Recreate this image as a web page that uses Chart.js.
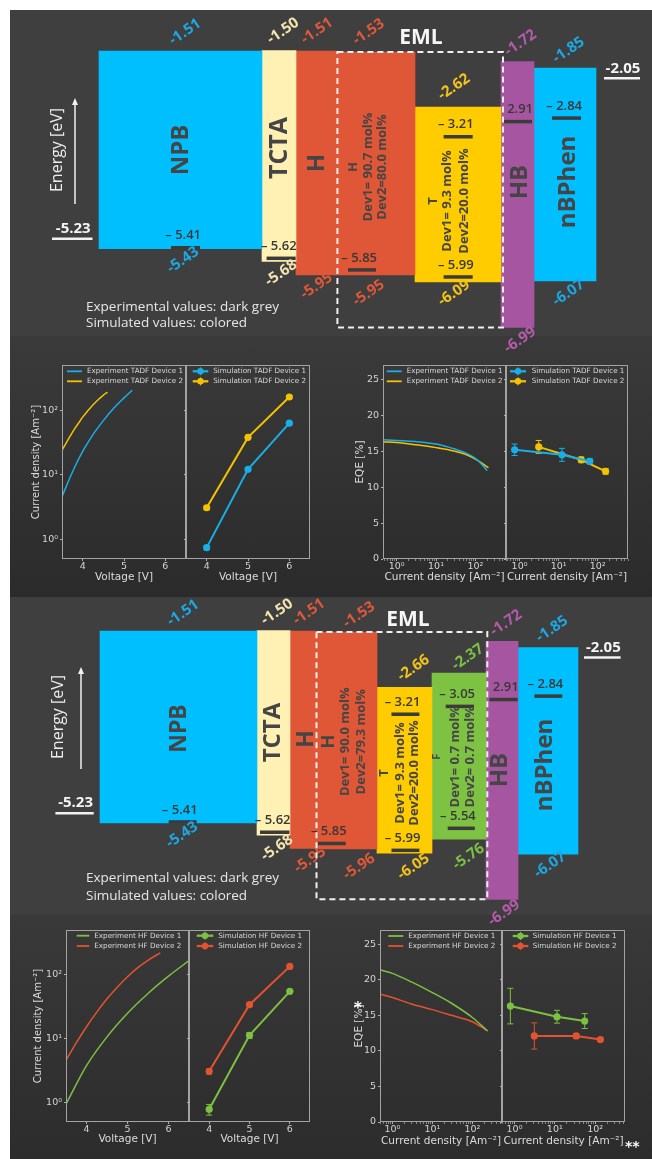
<!DOCTYPE html>
<html><head><meta charset="utf-8">
<script src="https://cdn.jsdelivr.net/npm/chart.js@4.4.1/dist/chart.umd.min.js"></script>
<style>
html,body{margin:0;padding:0;background:#fff;}
#page{position:relative;width:652px;height:1159px;overflow:hidden;background:#fff;}
.bg{position:absolute;left:10px;right:0;}
canvas{position:absolute;}
.mark{position:absolute;color:#fff;font-family:"DejaVu Sans",sans-serif;font-weight:bold;white-space:nowrap;}
</style></head>
<body><div id="page">
<div class="bg" style="top:10px;height:326px;background:#3f3f3f"></div>
<div class="bg" style="top:336px;height:261px;background:linear-gradient(#3a3a3a,#2b2b2b)"></div>
<div class="bg" style="top:597px;height:318px;background:#3f3f3f"></div>
<div class="bg" style="top:915px;bottom:0;background:linear-gradient(#393939,#2c2c2c)"></div>
</div>
<script>
// ================= DATA =================
// Energy levels [eV] – TADF stack
const tadfLayers = ['NPB', 'TCTA', 'H', 'H', 'T', 'HB', 'nBPhen'];
const tadfLumo = [-1.51, -1.50, -1.51, -1.53, -2.62, -1.72, -1.85];
const tadfHomo = [-5.43, -5.68, -5.95, -5.95, -6.09, -6.99, -6.07];
const tadfExpLevels = [-5.41, -5.62, -5.85, -3.21, -5.99, -2.91, -2.84];
const tadfRefLevels = [-5.23, -2.05];
const tadfHostMol = [90.7, 80.0];
const tadfEmitterMol = [9.3, 20.0];

// Energy levels [eV] – HF stack
const hfLayers = ['NPB', 'TCTA', 'H', 'H', 'T', 'F', 'HB', 'nBPhen'];
const hfLumo = [-1.51, -1.50, -1.51, -1.53, -2.66, -2.37, -1.72, -1.85];
const hfHomo = [-5.43, -5.68, -5.95, -5.96, -6.05, -5.76, -6.99, -6.07];
const hfExpLevels = [-5.41, -5.62, -5.85, -3.21, -5.99, -3.05, -5.54, -2.91, -2.84];
const hfRefLevels = [-5.23, -2.05];
const hfHostMol = [90.0, 79.3];
const hfTadfMol = [9.3, 20.0];
const hfFluorMol = [0.7, 0.7];

// Current density vs voltage
const tadfExpV1 = [3.5, 3.75, 4.0, 4.25, 4.5, 4.75, 5.0, 5.2];
const tadfExpJ1 = [4.6, 11, 23, 42, 69, 107, 155, 204];
const tadfExpV2 = [3.5, 3.6, 3.7, 3.8, 3.9, 4.0, 4.1, 4.2, 4.3, 4.4, 4.5, 4.6];
const tadfExpJ2 = [24, 31, 40, 51, 63, 78, 94, 111, 130, 150, 171, 190];
const simVoltage = [4, 5, 6];
const tadfSimJ1 = [0.75, 12.2, 63];
const tadfSimJ2 = [3.1, 38, 160];
const tadfSimJErr1 = [0.06, 0.8, 2.5];
const tadfSimJErr2 = [0.2, 2, 5];

const hfExpV1 = [3.5, 4.0, 4.5, 5.0, 5.5, 6.0, 6.5];
const hfExpJ1 = [0.95, 3.8, 10.7, 25, 51, 95, 166];
const hfExpV2 = [3.5, 3.75, 4.0, 4.25, 4.5, 4.75, 5.0, 5.25, 5.5, 5.8];
const hfExpJ2 = [4.6, 8.6, 15.4, 26, 42, 64, 93, 129, 168, 220];
const hfSimJ1 = [0.79, 11.3, 55];
const hfSimJ2 = [3.1, 34, 135];
const hfSimJErr1 = [0.15, 1.2, 3];
const hfSimJErr2 = [0.3, 2, 6];

// EQE vs current density
const tadfExpEqeJ1 = [0.45, 1, 3, 10, 30, 60, 100, 150, 200];
const tadfExpEqe1 = [16.6, 16.5, 16.35, 16.0, 15.3, 14.7, 14.0, 13.1, 12.3];
const tadfExpEqeJ2 = [0.45, 1, 3, 10, 30, 60, 100, 150, 215];
const tadfExpEqe2 = [16.3, 16.2, 15.9, 15.5, 15.0, 14.5, 13.9, 13.3, 12.7];
const tadfSimEqe1 = [15.2, 14.5, 13.6];
const tadfSimEqeErr1 = [0.8, 0.9, 0.4];
const tadfSimEqe2 = [15.6, 13.8, 12.2];
const tadfSimEqeErr2 = [0.9, 0.4, 0.4];

const hfExpEqeJ = [0.49, 1, 3, 10, 30, 100, 240];
const hfExpEqe1 = [21.4, 20.9, 19.7, 18.2, 16.7, 14.7, 12.8];
const hfExpEqe2 = [18.0, 17.5, 16.6, 15.8, 15.0, 14.1, 12.8];
const hfSimEqe1 = [16.3, 14.8, 14.2];
const hfSimEqeErr1 = [2.5, 0.9, 1.05];
const hfSimEqe2 = [12.1, 12.1, 11.6];
const hfSimEqeErr2 = [1.85, 0.35, 0.25];

// Tick values
const jvVoltageTicks = [4, 5, 6];
const jvCurrentTicks = [1, 10, 100];
const eqeTicks = [0, 5, 10, 15, 20, 25];

// ================= STYLE / LAYOUT =================
const C_BLUE = '#1aaee6', C_YELLOW = '#f4c200', C_GREEN = '#7dc142', C_RED = '#e2532f';
Chart.defaults.font.family = '"DejaVu Sans", sans-serif';
Chart.defaults.color = '#d4d4d4';
Chart.defaults.animation = false;
const page = document.getElementById('page');
const OS = '"Open Sans", "DejaVu Sans", sans-serif';

function addCanvas(x, y, w, h) {
  const c = document.createElement('canvas');
  c.width = w; c.height = h;
  c.style.left = x + 'px'; c.style.top = y + 'px';
  c.style.width = w + 'px'; c.style.height = h + 'px';
  page.appendChild(c);
  return c;
}
const SUP = {'-': '⁻', '0': '⁰', '1': '¹', '2': '²', '3': '³', '4': '⁴'};
function pow10Label(v) {
  const e = Math.log10(v), r = Math.round(e);
  return Math.abs(e - r) < 1e-6 ? '10' + String(r).split('').map(ch => SUP[ch]).join('') : '';
}
function logTicks(min, max) {
  const out = [];
  for (let d = Math.floor(Math.log10(min)); d <= Math.ceil(Math.log10(max)); d++)
    for (let m = 1; m <= 9; m++) {
      const v = m * Math.pow(10, d);
      if (v >= min * 0.9999 && v <= max * 1.0001) out.push({value: v});
    }
  return out;
}
const pts = (xs, ys) => xs.map((x, i) => ({x, y: ys[i]}));
function expSet(label, xs, ys, color) {
  return {label, data: pts(xs, ys), borderColor: color, backgroundColor: color, borderWidth: 1.5,
    pointRadius: 0, cubicInterpolationMode: 'monotone', fill: false};
}
function simSet(label, xs, ys, err, color) {
  return {label, data: pts(xs, ys), yErr: err, borderColor: color, backgroundColor: color, borderWidth: 2,
    pointRadius: 3.6, pointBorderWidth: 0, pointBackgroundColor: color, fill: false};
}

const TICK_FONT = {size: 9.5};
const GRID = {drawOnChartArea: false, tickLength: 2, tickColor: '#b0b0b0'};
function xAxisJV() {
  return {type: 'linear', min: 3.5, max: 6.5,
    afterBuildTicks: s => { s.ticks = jvVoltageTicks.map(v => ({value: v})); },
    ticks: {font: TICK_FONT, padding: 0, maxRotation: 0, autoSkip: false},
    grid: GRID, border: {display: false},
    title: {display: true, text: 'Voltage [V]', font: {size: 10.5}, color: '#dcdcdc', padding: 0}};
}
function yAxisJV(labels) {
  return {type: 'logarithmic', min: 0.5, max: 500,
    afterBuildTicks: s => { s.ticks = jvCurrentTicks.map(v => ({value: v})); },
    ticks: {display: labels, font: TICK_FONT, padding: 2, autoSkip: false, callback: v => pow10Label(v)},
    grid: GRID, border: {display: false},
    title: {display: labels, text: 'Current density [Am⁻²]', font: {size: 10}, color: '#dcdcdc', padding: 0}};
}
function xAxisEQE(min, max) {
  return {type: 'logarithmic', min, max,
    afterBuildTicks: s => { s.ticks = logTicks(min, max); },
    ticks: {font: TICK_FONT, padding: 0, autoSkip: false, maxRotation: 0, callback: v => pow10Label(v)},
    grid: {drawOnChartArea: false, tickLength: 2,
      tickColor: c => (c.tick && pow10Label(c.tick.value)) ? '#b0b0b0' : '#858585'},
    border: {display: false},
    title: {display: true, text: 'Current density [Am⁻²]', font: {size: 10.5}, color: '#dcdcdc', padding: 0}};
}
function yAxisEQE(labels) {
  return {type: 'linear', min: 0, max: 27,
    afterBuildTicks: s => { s.ticks = eqeTicks.map(v => ({value: v})); },
    ticks: {display: labels, font: TICK_FONT, padding: 2, autoSkip: false},
    grid: GRID, border: {display: false},
    title: {display: labels, text: 'EQE [%]', font: {size: 10.5}, color: '#dcdcdc', padding: 0}};
}

const framePlugin = {
  id: 'frame',
  afterDatasetsDraw(chart) {
    const {ctx, chartArea: a} = chart;
    ctx.save(); ctx.strokeStyle = '#a3a3a3'; ctx.lineWidth = 1;
    ctx.strokeRect(Math.round(a.left) + 0.5, Math.round(a.top) + 0.5,
      Math.round(a.right - a.left) - 1, Math.round(a.bottom - a.top) - 1);
    ctx.restore();
  }
};
const errorBarPlugin = {
  id: 'errorBars',
  beforeDatasetsDraw(chart) {
    const {ctx} = chart, ys = chart.scales.y;
    chart.data.datasets.forEach((ds, i) => {
      if (!ds.yErr) return;
      const meta = chart.getDatasetMeta(i);
      ctx.save(); ctx.strokeStyle = ds.borderColor; ctx.lineWidth = 1;
      meta.data.forEach((pt, j) => {
        const v = ds.data[j].y, e = ds.yErr[j];
        const y0 = ys.getPixelForValue(v - e), y1 = ys.getPixelForValue(v + e);
        ctx.beginPath();
        ctx.moveTo(pt.x, y0); ctx.lineTo(pt.x, y1);
        ctx.moveTo(pt.x - 3, y0); ctx.lineTo(pt.x + 3, y0);
        ctx.moveTo(pt.x - 3, y1); ctx.lineTo(pt.x + 3, y1);
        ctx.stroke();
      });
      ctx.restore();
    });
  }
};
const legendPlugin = {
  id: 'panelLegend',
  afterDraw(chart, args, o) {
    if (!o || o.x0 === undefined) return;
    const {ctx, chartArea: a} = chart;
    ctx.save();
    ctx.font = '7.2px "DejaVu Sans", sans-serif';
    ctx.textBaseline = 'middle'; ctx.textAlign = 'left';
    chart.data.datasets.forEach((ds, i) => {
      const y = a.top + o.y0 + i * o.dy;
      ctx.strokeStyle = ds.borderColor; ctx.lineWidth = ds.borderWidth + 0.3;
      ctx.beginPath(); ctx.moveTo(a.left + o.x0, y); ctx.lineTo(a.left + o.x1, y); ctx.stroke();
      if (ds.pointRadius) {
        const mx = a.left + (o.x0 + o.x1) / 2;
        ctx.lineWidth = 1; ctx.beginPath(); ctx.moveTo(mx, y - 4); ctx.lineTo(mx, y + 4); ctx.stroke();
        ctx.fillStyle = ds.borderColor; ctx.beginPath(); ctx.arc(mx, y, 3.2, 0, Math.PI * 2); ctx.fill();
      }
      ctx.fillStyle = '#d8d8d8';
      ctx.fillText(ds.label, a.left + o.tx, y);
    });
    ctx.restore();
  }
};

function panel(area, box, datasets, xs, ys, legend) {
  const c = addCanvas(box.x, box.y, box.w, box.h);
  const yW = area.l - box.x, xH = box.y + box.h - area.b;
  xs.afterFit = s => { s.height = xH; };
  ys.afterFit = s => { s.width = yW; };
  return new Chart(c, {
    type: 'line',
    data: {datasets},
    options: {
      responsive: false, animation: false, devicePixelRatio: 1,
      layout: {padding: {left: 0, top: area.t - box.y, right: box.x + box.w - area.r, bottom: 0}},
      plugins: {legend: {display: false}, tooltip: {enabled: false}, panelLegend: legend},
      scales: {x: xs, y: ys}
    },
    plugins: [errorBarPlugin, framePlugin, legendPlugin]
  });
}

// ---------- TADF J-V ----------
panel({l: 62, t: 365, r: 186, b: 559}, {x: 30, y: 357, w: 159, h: 227},
  [expSet('Experiment TADF Device 1', tadfExpV1, tadfExpJ1, C_BLUE),
   expSet('Experiment TADF Device 2', tadfExpV2, tadfExpJ2, C_YELLOW)],
  xAxisJV(), yAxisJV(true), {x0: 5, x1: 20, tx: 25, y0: 6.3, dy: 10});
panel({l: 186, t: 365, r: 311, b: 559}, {x: 182, y: 357, w: 132, h: 227},
  [simSet('Simulation TADF Device 1', simVoltage, tadfSimJ1, tadfSimJErr1, C_BLUE),
   simSet('Simulation TADF Device 2', simVoltage, tadfSimJ2, tadfSimJErr2, C_YELLOW)],
  xAxisJV(), yAxisJV(false), {x0: 6.7, x1: 22.3, tx: 27.3, y0: 6.3, dy: 10});
// ---------- TADF EQE ----------
panel({l: 383, t: 365, r: 506, b: 559}, {x: 354, y: 357, w: 155, h: 227},
  [expSet('Experiment TADF Device 1', tadfExpEqeJ1, tadfExpEqe1, C_BLUE),
   expSet('Experiment TADF Device 2', tadfExpEqeJ2, tadfExpEqe2, C_YELLOW)],
  xAxisEQE(0.45, 600), yAxisEQE(true), {x0: 3.7, x1: 18.7, tx: 23.7, y0: 6.3, dy: 10});
panel({l: 506, t: 365, r: 629, b: 559}, {x: 502, y: 357, w: 130, h: 227},
  [simSet('Simulation TADF Device 1', tadfSimJ1, tadfSimEqe1, tadfSimEqeErr1, C_BLUE),
   simSet('Simulation TADF Device 2', tadfSimJ2, tadfSimEqe2, tadfSimEqeErr2, C_YELLOW)],
  xAxisEQE(0.45, 600), yAxisEQE(false), {x0: 4, x1: 20, tx: 25.7, y0: 6.3, dy: 10});
// ---------- HF J-V ----------
panel({l: 66, t: 930, r: 189, b: 1122}, {x: 32, y: 922, w: 160, h: 224},
  [expSet('Experiment HF Device 1', hfExpV1, hfExpJ1, C_GREEN),
   expSet('Experiment HF Device 2', hfExpV2, hfExpJ2, C_RED)],
  xAxisJV(), yAxisJV(true), {x0: 10.7, x1: 23.3, tx: 28.3, y0: 5.7, dy: 10.3});
panel({l: 189, t: 930, r: 311, b: 1122}, {x: 185, y: 922, w: 129, h: 224},
  [simSet('Simulation HF Device 1', simVoltage, hfSimJ1, hfSimJErr1, C_GREEN),
   simSet('Simulation HF Device 2', simVoltage, hfSimJ2, hfSimJErr2, C_RED)],
  xAxisJV(), yAxisJV(false), {x0: 7.7, x1: 24.3, tx: 29.3, y0: 5.7, dy: 10.3});
// ---------- HF EQE ----------
panel({l: 380, t: 930, r: 502, b: 1122}, {x: 353, y: 922, w: 152, h: 226},
  [expSet('Experiment HF Device 1', hfExpEqeJ, hfExpEqe1, C_GREEN),
   expSet('Experiment HF Device 2', hfExpEqeJ, hfExpEqe2, C_RED)],
  xAxisEQE(0.49, 550), yAxisEQE(true), {x0: 8.3, x1: 23.3, tx: 28.3, y0: 6, dy: 10});
panel({l: 502, t: 930, r: 626, b: 1122}, {x: 498, y: 922, w: 131, h: 226},
  [simSet('Simulation HF Device 1', hfSimJ1, hfSimEqe1, hfSimEqeErr1, C_GREEN),
   simSet('Simulation HF Device 2', hfSimJ2, hfSimEqe2, hfSimEqeErr2, C_RED)],
  xAxisEQE(0.49, 550), yAxisEQE(false), {x0: 10.7, x1: 26.3, tx: 30.7, y0: 6, dy: 10});

// ================= ENERGY DIAGRAMS =================
const COL = {npb: '#00bfff', tcta: '#fff0b3', h: '#df5736', t: '#ffcc00', f: '#7dc243', hb: '#a656a0'};
const LCOL = {npb: '#1ca8e2', tcta: '#f3e4ad', h: '#e0583a', t: '#f2c31a', f: '#7cc242', hb: '#b55aac'};

const tadfLayout = {
  top: 0, height: 365, yMin: -7.7352, yMax: -0.4989,
  layerX: [[99, 262], [262, 296], [296, 337], [337, 415], [415, 501], [501, 534], [534, 596]],
  barColors: [COL.npb, COL.tcta, COL.h, COL.h, COL.t, COL.hb, COL.npb],
  labelColors: [LCOL.npb, LCOL.tcta, LCOL.h, LCOL.h, LCOL.t, LCOL.hb, LCOL.npb],
  lumoOff: [[4.5, -19], [4, -19.5], [0.5, -20], [-7.4, -20], [-4, -20], [3, -18.6], [3.5, -18]],
  homoOff: [[2.5, 11.3], [2, 11.7], [0, 11], [-7.4, 18], [-4, 11], [2.5, 12.6], [3.5, 11.8]],
  expX: [[171, 200], [266.6, 295.7], [348, 376], [443.6, 472.7], [443.6, 472.7], [504, 532], [552, 581]],
  expDash: [1, 1, 1, 1, 1, 0, 1],
  refX: [[52, 92.5], [604, 640]],
  names: [{layer: 0, x: 181, y: 150, size: 24}, {layer: 1, x: 280, y: 148, size: 25}, {layer: 2, x: 317, y: 163, size: 24},
          {layer: 5, x: 520.6, y: 182, size: 24}, {layer: 6, x: 568.5, y: 182, size: 24}],
  groups: [{layer: 3, xs: [353, 368.6, 382.3], y: 167, hSize: 13}, {layer: 4, xs: [433, 447.7, 464.4], y: 201, hSize: 13}],
  eml: {x0: 337.4, x1: 503, topLayer: 3, bottomLayer: 5, labelX: 421, labelY: 38},
  energy: {x: 57.5, y: 150, ax: 75, aTop: 98, aBottom: 204},
  note: {x: 86, y1: 307, y2: 323}
};
const hfLayout = {
  top: 597, height: 330, yMin: -7.5558, yMax: -0.8156,
  layerX: [[100, 257], [257, 290], [290, 316], [316, 377], [377, 432], [432, 486], [486, 518], [518, 578]],
  barColors: [COL.npb, COL.tcta, COL.h, COL.h, COL.t, COL.f, COL.hb, COL.npb],
  labelColors: [LCOL.npb, LCOL.tcta, LCOL.h, LCOL.h, LCOL.t, LCOL.f, LCOL.hb, LCOL.npb],
  lumoOff: [[4.5, -18], [3.5, -18.5], [6, -19], [12.5, -17], [9, -19.3], [8.7, -16], [4, -18.3], [4, -18.6]],
  homoOff: [[3.5, 12], [3.5, 12.8], [7, 11.6], [12.5, 17.8], [9, 13.4], [9.6, 17.6], [2, 13.7], [2, 10.7]],
  expX: [[168.7, 196.6], [260, 289.5], [318, 345.7], [391.5, 419.4], [391.5, 419.4], [445.7, 474], [447.7, 474.8], [489.4, 517.7], [534.4, 562.3]],
  expDash: [1, 1, 1, 1, 1, 1, 1, 0, 1],
  refX: [[55.4, 93.7], [584, 620.6]],
  names: [{layer: 0, x: 179.5, y: 728.5, size: 23}, {layer: 1, x: 273.5, y: 732.5, size: 24}, {layer: 2, x: 306, y: 739, size: 23},
          {layer: 6, x: 500, y: 770, size: 24}, {layer: 7, x: 545.6, y: 765, size: 24}],
  groups: [{layer: 3, xs: [329, 345.7, 361.5], y: 741.7, hSize: 18}, {layer: 4, xs: [384, 400, 414.4], y: 773, hSize: 13},
           {layer: 5, xs: [437.3, 455, 470.6], y: 756.7, hSize: 11}],
  eml: {x0: 316.5, x1: 487.3, topLayer: 3, bottomLayer: 6, labelX: 408, labelY: 620},
  energy: {x: 58, y: 717, ax: 81, aTop: 667, aBottom: 769},
  note: {x: 86, y1: 878.3, y2: 895.7}
};

function devLines(mol) {
  return ['Dev1= ' + mol[0].toFixed(1) + ' mol%', 'Dev2=' + (mol[1] < 10 ? ' ' : '') + mol[1].toFixed(1) + ' mol%'];
}

function makeDiagram(d, L) {
  const c = addCanvas(0, L.top, 652, L.height);
  const datasets = [];
  d.layers.forEach((name, i) => {
    const [x0, x1] = L.layerX[i];
    datasets.push({type: 'bar', label: name, data: [{x: (x0 + x1) / 2, y: [d.homo[i], d.lumo[i]]}],
      backgroundColor: L.barColors[i], barThickness: x1 - x0, stack: 'layers', borderWidth: 0, order: 3});
  });
  d.exp.forEach((v, i) => {
    const [x0, x1] = L.expX[i];
    datasets.push({type: 'line', label: 'exp', data: [{x: x0, y: v}, {x: x1, y: v}],
      borderColor: '#3b3b3b', borderWidth: 3.5, pointRadius: 0, order: 2});
  });
  d.ref.forEach((v, i) => {
    const [x0, x1] = L.refX[i];
    datasets.push({type: 'line', label: 'ref', data: [{x: x0, y: v}, {x: x1, y: v}],
      borderColor: '#f2f2f2', borderWidth: 2.5, pointRadius: 0, order: 2});
  });
  const textPlugin = {
    id: 'diagramText',
    afterDatasetsDraw(chart) {
      const ctx = chart.ctx;
      const X = v => chart.scales.x.getPixelForValue(v), Y = v => chart.scales.y.getPixelForValue(v);
      const T = L.top;
      const text = (s, x, y, font, color, align, rot) => {
        ctx.save(); ctx.translate(x, y); ctx.rotate(rot || 0);
        ctx.font = font; ctx.fillStyle = color; ctx.textAlign = align || 'center'; ctx.textBaseline = 'middle';
        ctx.fillText(s, 0, 0); ctx.restore();
      };
      // HOMO / LUMO labels
      d.layers.forEach((name, i) => {
        const cx = X((L.layerX[i][0] + L.layerX[i][1]) / 2);
        text(d.lumo[i].toFixed(2), cx + L.lumoOff[i][0], Y(d.lumo[i]) + L.lumoOff[i][1], `bold 15px ${OS}`, L.labelColors[i], 'center', -0.6);
        text(d.homo[i].toFixed(2), cx + L.homoOff[i][0], Y(d.homo[i]) + L.homoOff[i][1], `bold 15px ${OS}`, L.labelColors[i], 'center', -0.6);
      });
      // experimental level labels
      d.exp.forEach((v, i) => {
        text((L.expDash[i] ? '– ' : '') + Math.abs(v).toFixed(2), X(L.expX[i][1]) + 1, Y(v) - 12, `600 13px ${OS}`, '#383838', 'right');
      });
      d.ref.forEach((v, i) => {
        text(v.toFixed(2), X((L.refX[i][0] + L.refX[i][1]) / 2) + 1, Y(v) - 10, `bold 15px ${OS}`, '#f4f4f4');
      });
      // layer names
      L.names.forEach(n => text(d.layers[n.layer], n.x, n.y - T, `bold ${n.size}px ${OS}`, '#454545', 'center', -Math.PI / 2));
      // EML composition groups
      L.groups.forEach((g, k) => {
        text(d.layers[g.layer], g.xs[0], g.y - T, `bold ${g.hSize}px ${OS}`, '#454545', 'center', -Math.PI / 2);
        devLines(d.mol[k]).forEach((s, j) => text(s, g.xs[j + 1], g.y - T, `bold 13px ${OS}`, '#454545', 'center', -Math.PI / 2));
      });
      // EML dashed box
      const e = L.eml;
      ctx.save(); ctx.setLineDash([6, 4]); ctx.strokeStyle = '#f0f0f0'; ctx.lineWidth = 2;
      const yT = Y(d.lumo[e.topLayer]), yB = Y(d.homo[e.bottomLayer]);
      ctx.strokeRect(X(e.x0), yT, X(e.x1) - X(e.x0), yB - yT);
      ctx.restore();
      text('EML', e.labelX, e.labelY - T, `bold 21px ${OS}`, '#f6f6f6');
      // energy axis
      const en = L.energy;
      text('Energy [eV]', en.x, en.y - T, `16px ${OS}`, '#ececec', 'center', -Math.PI / 2);
      ctx.save(); ctx.strokeStyle = '#f2f2f2'; ctx.fillStyle = '#f2f2f2'; ctx.lineWidth = 1.5;
      ctx.beginPath(); ctx.moveTo(en.ax, en.aBottom - T); ctx.lineTo(en.ax, en.aTop + 5 - T); ctx.stroke();
      ctx.beginPath(); ctx.moveTo(en.ax, en.aTop - T); ctx.lineTo(en.ax - 3, en.aTop + 7 - T); ctx.lineTo(en.ax + 3, en.aTop + 7 - T); ctx.closePath(); ctx.fill();
      ctx.restore();
      // notes
      text('Experimental values: dark grey', L.note.x, L.note.y1 - T, `13.5px ${OS}`, '#e6e6e6', 'left');
      text('Simulated values: colored', L.note.x, L.note.y2 - T, `13.5px ${OS}`, '#e6e6e6', 'left');
    }
  };
  new Chart(c, {
    type: 'bar',
    data: {datasets},
    options: {
      responsive: false, animation: false, devicePixelRatio: 1,
      layout: {padding: 0},
      plugins: {legend: {display: false}, tooltip: {enabled: false}},
      scales: {
        x: {type: 'linear', display: false, min: 0, max: 652, offset: false},
        y: {type: 'linear', display: false, min: L.yMin, max: L.yMax, stacked: false}
      }
    },
    plugins: [textPlugin]
  });
}

makeDiagram({layers: tadfLayers, lumo: tadfLumo, homo: tadfHomo, exp: tadfExpLevels, ref: tadfRefLevels,
  mol: [tadfHostMol, tadfEmitterMol]}, tadfLayout);
makeDiagram({layers: hfLayers, lumo: hfLumo, homo: hfHomo, exp: hfExpLevels, ref: hfRefLevels,
  mol: [hfHostMol, hfTadfMol, hfFluorMol]}, hfLayout);

// small white markers present in the figure
function addMark(txt, x, y, size) {
  const s = document.createElement('span');
  s.className = 'mark'; s.textContent = txt;
  s.style.left = x + 'px'; s.style.top = y + 'px'; s.style.fontSize = size + 'px'; s.style.lineHeight = size + 'px';
  page.appendChild(s);
}
addMark('*', 354, 1001, 15);
addMark('**', 625, 1139, 14);
</script>
</body></html>
